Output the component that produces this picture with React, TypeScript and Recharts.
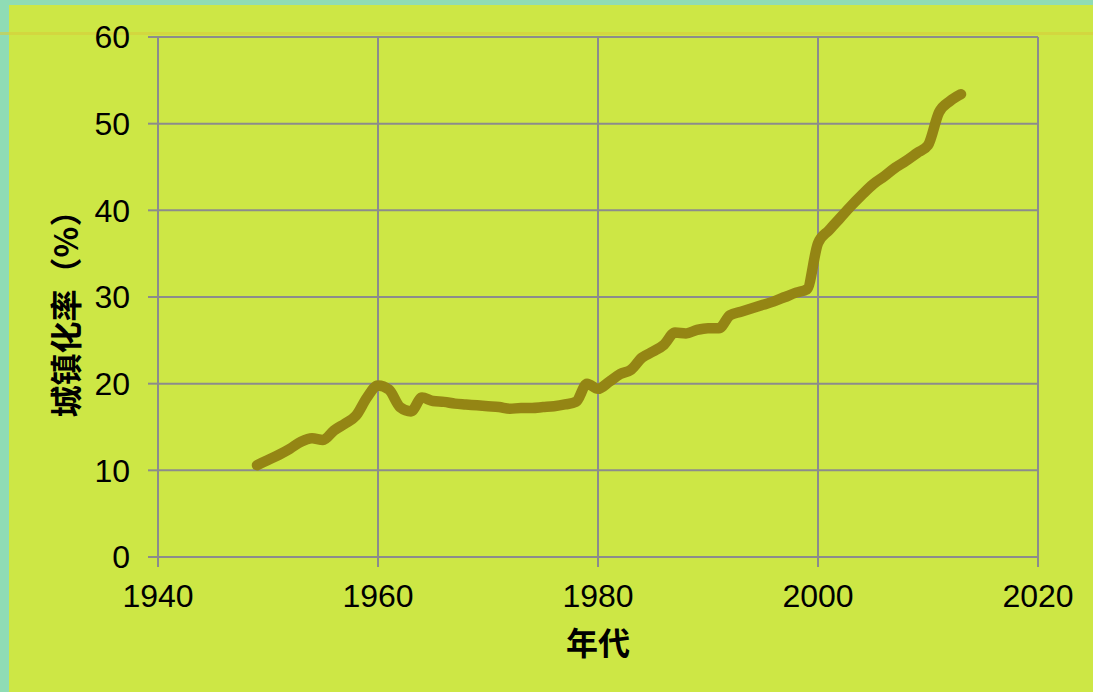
import React from "react";
import { LineChart, Line, XAxis, YAxis, CartesianGrid } from "recharts";

const years: number[] = [
  1949, 1950, 1951, 1952, 1953, 1954, 1955, 1956, 1957, 1958, 1959,
  1960, 1961, 1962, 1963, 1964, 1965, 1966, 1967, 1968, 1969,
  1970, 1971, 1972, 1973, 1974, 1975, 1976, 1977, 1978, 1979,
  1980, 1981, 1982, 1983, 1984, 1985, 1986, 1987, 1988, 1989,
  1990, 1991, 1992, 1993, 1994, 1995, 1996, 1997, 1998, 1999,
  2000, 2001, 2002, 2003, 2004, 2005, 2006, 2007, 2008, 2009,
  2010, 2011, 2012, 2013,
];

const rates: number[] = [
  10.6, 11.2, 11.8, 12.5, 13.3, 13.7, 13.5, 14.6, 15.4, 16.3, 18.4,
  19.8, 19.3, 17.3, 16.8, 18.4, 18.0, 17.9, 17.7, 17.6, 17.5,
  17.4, 17.3, 17.1, 17.2, 17.2, 17.3, 17.4, 17.6, 17.9, 20.0,
  19.4, 20.2, 21.1, 21.6, 23.0, 23.7, 24.5, 25.9, 25.8, 26.2,
  26.4, 26.4, 27.9, 28.3, 28.7, 29.1, 29.5, 30.0, 30.5, 30.9,
  36.2, 37.7, 39.1, 40.5, 41.8, 43.0, 43.9, 44.9, 45.7, 46.6,
  47.5, 51.3, 52.6, 53.4,
];

const xTicks: number[] = [1940, 1960, 1980, 2000, 2020];
const yTicks: number[] = [0, 10, 20, 30, 40, 50, 60];

const xTitle = "年代";
const yTitle = "城镇化率（%）";

const data = years.map((y, i) => ({ year: y, rate: rates[i] }));

const GRID = "#8c8c8c";
const LINE = "#948514";
const BG = "#cde745";
const FRAME = "#8fdcb5";
const TICK_FONT = "'Liberation Sans', Arial, sans-serif";
const CJK_FONT = "'Noto Sans CJK SC', sans-serif";

export default function App() {
  return (
    <div
      style={{
        position: "absolute",
        left: 0,
        top: 0,
        width: 1093,
        height: 692,
        background: FRAME,
        overflow: "hidden",
      }}
    >
      <div
        style={{
          position: "absolute",
          left: 9,
          top: 5,
          width: 1084,
          height: 687,
          background: BG,
        }}
      />
      <div
        style={{
          position: "absolute",
          left: 0,
          top: 32,
          width: 1093,
          height: 3,
          background: "rgba(215,205,60,0.6)",
        }}
      />
      <div style={{ position: "absolute", left: 0, top: 0 }}>
        <LineChart
          width={1093}
          height={692}
          data={data}
          margin={{ top: 37, right: 55, bottom: 75, left: 58 }}
        >
          <CartesianGrid stroke={GRID} strokeWidth={2} />
          <XAxis
            dataKey="year"
            type="number"
            domain={[1940, 2020]}
            ticks={xTicks}
            interval={0}
            height={60}
            tickSize={10}
            tickMargin={17}
            axisLine={{ stroke: GRID, strokeWidth: 2 }}
            tickLine={{ stroke: GRID, strokeWidth: 2 }}
            tick={{ fill: "#000", fontSize: 32, fontFamily: TICK_FONT }}
            label={{
              content: (props: any) => {
                const vb = props.viewBox;
                return (
                  <text
                    x={vb.x + vb.width / 2}
                    y={641}
                    textAnchor="middle"
                    dominantBaseline="central"
                    fontFamily={CJK_FONT}
                    fontWeight="bold"
                    fontSize={32}
                    fill="#000"
                  >
                    {xTitle}
                  </text>
                );
              },
            }}
          />
          <YAxis
            type="number"
            domain={[0, 60]}
            ticks={yTicks}
            interval={0}
            width={100}
            tickSize={10}
            tickMargin={18}
            axisLine={{ stroke: GRID, strokeWidth: 2 }}
            tickLine={{ stroke: GRID, strokeWidth: 2 }}
            tick={{ fill: "#000", fontSize: 32, fontFamily: TICK_FONT }}
            label={{
              content: (props: any) => {
                const vb = props.viewBox;
                const cy = vb.y + vb.height / 2 + 9;
                return (
                  <text
                    x={64}
                    y={cy}
                    transform={`rotate(-90 64 ${cy})`}
                    textAnchor="middle"
                    dominantBaseline="central"
                    fontFamily={CJK_FONT}
                    fontWeight="bold"
                    fontSize={32}
                    fill="#000"
                  >
                    {yTitle}
                  </text>
                );
              },
            }}
          />
          <Line
            dataKey="rate"
            type="monotone"
            stroke={LINE}
            strokeWidth={10.5}
            strokeLinecap="round"
            strokeLinejoin="round"
            dot={false}
            activeDot={false}
            isAnimationActive={false}
          />
        </LineChart>
      </div>
    </div>
  );
}
